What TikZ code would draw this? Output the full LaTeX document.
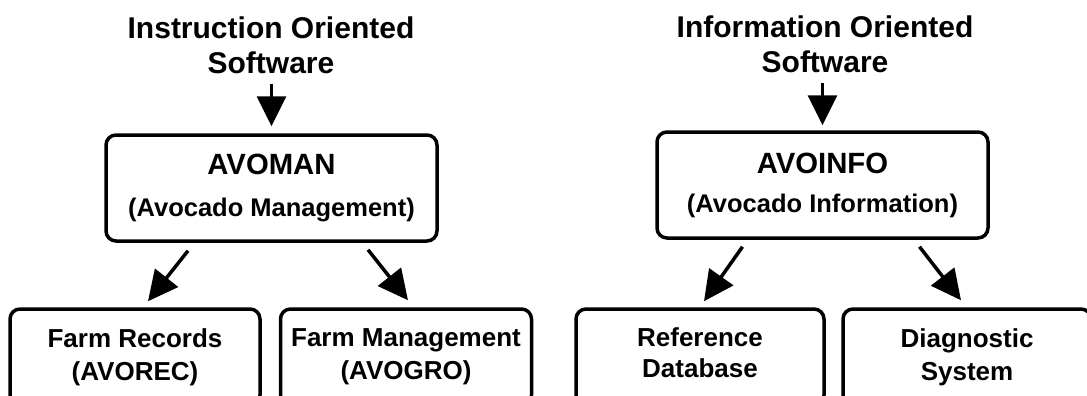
\documentclass[tikz,border=0pt]{standalone}
\usepackage{fontspec}
\setmainfont{Liberation Sans}
\usetikzlibrary{arrows.meta}
\tikzset{
  title/.style={font=\bfseries\fontsize{30}{35}\selectfont, align=center, inner sep=0pt},
  mainbox/.style={draw, line width=3.5pt, rounded corners=10pt, align=center, inner sep=0pt,
    minimum width=331pt, minimum height=106pt},
  subbox/.style={draw, line width=3.5pt, rounded corners=10pt, align=center, inner sep=0pt,
    minimum height=96pt, font=\bfseries\fontsize{26}{33}\selectfont},
  arr/.style={line width=3.5pt, -{Triangle[width=29pt,length=30pt]}},
}
\begin{document}
\begin{tikzpicture}[x=1pt,y=-1pt]
\useasboundingbox (0,0) rectangle (1087,396);
\clip (0,0) rectangle (1087,396);
% titles
\node[title] (t1) at (271,45) {Instruction Oriented\\Software};
\node[title] (t2) at (825,44.5) {Information Oriented\\Software};
% main boxes
\node[mainbox, font=\bfseries\fontsize{25.5}{42}\selectfont] (b1) at (271.5,188)
  {{\fontsize{29.3}{42}\selectfont AVOMAN}\\(Avocado Management)};
\node[mainbox, font=\bfseries\fontsize{25.5}{39}\selectfont] (b2) at (822.5,185)
  {{\fontsize{29.3}{39}\selectfont AVOINFO}\\(Avocado Information)};
% sub boxes
\node[subbox, minimum width=250pt] (c1) at (135,357) {Farm Records\\(AVOREC)};
\node[subbox, minimum width=251pt] (c2) at (406,357) {Farm Management\\(AVOGRO)};
\node[subbox, minimum width=248pt, font=\bfseries\fontsize{26}{31}\selectfont] (c3) at (700,357)
  {Reference\\Database\rule[-9pt]{0pt}{9pt}};
\node[subbox, minimum width=248pt] (c4) at (967,357) {Diagnostic\\System};
% arrows
\draw[arr, shorten <=10pt, shorten >=7pt] (t1.south -| b1.north) -- (b1.north);
\draw[arr, shorten <=10pt, shorten >=5pt] (t2.south -| b2.north) -- (b2.north);
\draw[arr] ([xshift=-83.5pt,yshift=-8pt]b1.south) -- ([xshift=13pt,yshift=6pt]c1.north);
\draw[arr] ([xshift=96.5pt,yshift=-7pt]b1.south) -- ([xshift=2pt,yshift=7pt]c2.north);
\draw[arr] ([xshift=-80pt,yshift=-7pt]b2.south) -- ([xshift=4pt,yshift=6pt]c3.north);
\draw[arr] ([xshift=97pt,yshift=-7pt]b2.south) -- ([xshift=-6pt,yshift=7pt]c4.north);
\end{tikzpicture}
\end{document}
